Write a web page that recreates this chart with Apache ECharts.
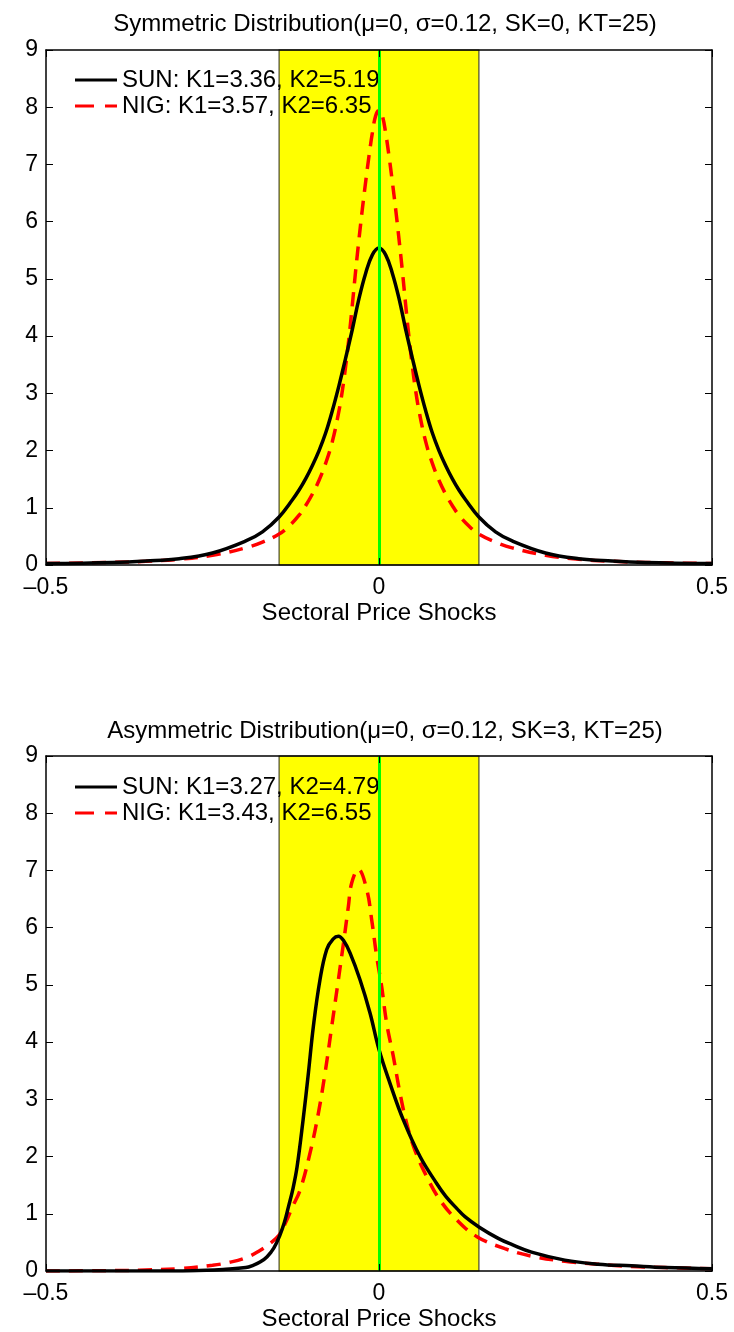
<!DOCTYPE html>
<html>
<head>
    <meta charset="utf-8"/>
    <title>ECharts</title>
    <script src="https://cdn.jsdelivr.net/npm/echarts@6/dist/echarts.min.js"></script>
    <style>
        html, body { margin: 0; padding: 0; background: #fff; }
    </style>
</head>
<body>
<div id="main" style="width: 734px;height:1332px;"></div>
<script type="text/javascript">
    // 刻度
    var xTicks = [-0.5, 0, 0.5];
    var yTicks = [0, 1, 2, 3, 4, 5, 6, 7, 8, 9];
    var bandRange = [-0.15, 0.15];

    var titles = [
        'Symmetric Distribution(\u03bc=0, \u03c3=0.12, SK=0, KT=25)',
        'Asymmetric Distribution(\u03bc=0, \u03c3=0.12, SK=3, KT=25)'
    ];
    var xName = 'Sectoral Price Shocks';
    var sunNames = ['SUN: K1=3.36, K2=5.19', 'SUN: K1=3.27, K2=4.79'];
    var nigNames = ['NIG: K1=3.57, K2=6.35', 'NIG: K1=3.43, K2=6.55'];

    // 上图 SUN
    var topSunX = [-0.5, -0.4, -0.35, -0.3, -0.25, -0.2, -0.175, -0.15, -0.13, -0.12, -0.11, -0.1, -0.09, -0.08, -0.07, -0.06, -0.05, -0.04, -0.03, -0.02, -0.01,
        0, 0.01, 0.02, 0.03, 0.04, 0.05, 0.06, 0.07, 0.08, 0.09, 0.1, 0.11, 0.12, 0.13, 0.15, 0.175, 0.2, 0.25, 0.3, 0.35, 0.4, 0.5];
    var topSunY = [0.025, 0.045, 0.07, 0.11, 0.21, 0.42, 0.58, 0.84, 1.14, 1.31, 1.51, 1.74, 2.00, 2.31, 2.70, 3.14, 3.62, 4.12, 4.66, 5.10, 5.42,
        5.54, 5.42, 5.10, 4.66, 4.12, 3.62, 3.14, 2.70, 2.31, 2.00, 1.74, 1.51, 1.31, 1.14, 0.84, 0.58, 0.42, 0.21, 0.11, 0.07, 0.045, 0.025];
    // 上图 NIG
    var topNigX = [-0.5, -0.4, -0.35, -0.3, -0.25, -0.2, -0.175, -0.15, -0.135, -0.12, -0.11, -0.1, -0.09, -0.08, -0.07, -0.06, -0.055, -0.05, -0.045, -0.04, -0.035, -0.03, -0.025, -0.02, -0.015, -0.01, -0.005,
        0, 0.005, 0.01, 0.015, 0.02, 0.025, 0.03, 0.035, 0.04, 0.045, 0.05, 0.055, 0.06, 0.07, 0.08, 0.09, 0.1, 0.11, 0.12, 0.135, 0.15, 0.175, 0.2, 0.25, 0.3, 0.35, 0.4, 0.5];
    var topNigY = [0.025, 0.045, 0.065, 0.10, 0.17, 0.30, 0.40, 0.54, 0.68, 0.87, 1.04, 1.24, 1.48, 1.78, 2.16, 2.70, 3.05, 3.48, 3.98, 4.55, 5.15, 5.70, 6.22, 6.70, 7.15, 7.55, 7.85,
        7.95, 7.85, 7.55, 7.15, 6.70, 6.22, 5.70, 5.15, 4.55, 3.98, 3.48, 3.05, 2.70, 2.16, 1.78, 1.48, 1.24, 1.04, 0.87, 0.68, 0.54, 0.40, 0.30, 0.17, 0.10, 0.065, 0.045, 0.025];

    // 下图 SUN
    var botSunX = [-0.5, -0.35, -0.28, -0.23, -0.2, -0.189, -0.178, -0.168, -0.158, -0.149, -0.142, -0.136, -0.129, -0.123, -0.114, -0.106, -0.0986, -0.0886, -0.0785, -0.069, -0.061, -0.053, -0.0435, -0.0285, -0.0135,
        0, 0.0165, 0.0365, 0.0616, 0.0866, 0.1, 0.117, 0.129, 0.15, 0.179, 0.2, 0.229, 0.279, 0.329, 0.379, 0.43, 0.5];
    var botSunY = [0, 0, 0.005, 0.03, 0.06, 0.10, 0.16, 0.25, 0.40, 0.62, 0.85, 1.12, 1.45, 1.82, 2.64, 3.46, 4.27, 5.09, 5.62, 5.80, 5.85, 5.77, 5.56, 5.09, 4.51,
        3.87, 3.28, 2.64, 2.00, 1.53, 1.31, 1.09, 0.95, 0.77, 0.57, 0.46, 0.33, 0.19, 0.12, 0.09, 0.06, 0.04];
    // 下图 NIG
    var botNigX = [-0.5, -0.41, -0.36, -0.3, -0.25, -0.225, -0.2, -0.18, -0.165, -0.15, -0.14, -0.13, -0.1186, -0.1036, -0.091, -0.081, -0.071, -0.061, -0.0526, -0.046, -0.041, -0.031, -0.0185, -0.011, -0.0035,
        0.004, 0.0115, 0.0215, 0.0315, 0.0416, 0.054, 0.0716, 0.0916, 0.117, 0.147, 0.189, 0.229, 0.279, 0.329, 0.379, 0.43, 0.5];
    var botNigY = [0, 0.005, 0.015, 0.04, 0.10, 0.15, 0.23, 0.35, 0.47, 0.63, 0.85, 1.12, 1.41, 2.06, 2.76, 3.46, 4.27, 5.09, 5.79, 6.37, 6.78, 7.02, 6.67, 6.14, 5.50,
        4.97, 4.33, 3.75, 3.11, 2.58, 2.11, 1.65, 1.24, 0.89, 0.60, 0.39, 0.26, 0.17, 0.12, 0.08, 0.06, 0.04];

    function zip(xs, ys) {
        var out = [];
        for (var i = 0; i < xs.length; i++) {
            out.push([xs[i], ys[i]]);
        }
        return out;
    }

    var FONT = 'Liberation Sans, Arial, Helvetica, sans-serif';
    var grids = [
        {left: 46, right: 22, top: 50, height: 515},
        {left: 46, right: 22, top: 756, height: 515}
    ];
    // 图例图标: 实线和虚线
    var solidIcon = 'path://M0,0h42v3h-42z';
    var dashIcon = 'path://M0,0h19v3h-19zM30,0h12v3h-12z';

    function xAxes(gi) {
        var base = {
            gridIndex: gi,
            type: 'value',
            min: xTicks[0],
            max: xTicks[xTicks.length - 1],
            interval: 0.5,
            z: 10,
            splitLine: {show: false},
            axisLine: {onZero: false, lineStyle: {color: '#000', width: 1.5}},
            axisTick: {inside: true, length: 7, lineStyle: {color: '#000', width: 1}}
        };
        var bottom = Object.assign({}, base, {
            position: 'bottom',
            name: xName,
            nameLocation: 'middle',
            nameGap: 36,
            nameTextStyle: {fontFamily: FONT, fontSize: 24, color: '#000'},
            axisLabel: {
                fontFamily: FONT, fontSize: 23, color: '#000', margin: 11,
                formatter: function (v) {
                    return v < 0 ? '\u2013' + Math.abs(v) : String(v);
                }
            }
        });
        var top = Object.assign({}, base, {position: 'top', axisLabel: {show: false}});
        return [bottom, top];
    }

    function yAxes(gi) {
        var base = {
            gridIndex: gi,
            type: 'value',
            min: yTicks[0],
            max: yTicks[yTicks.length - 1],
            interval: 1,
            z: 10,
            splitLine: {show: false},
            axisLine: {onZero: false, lineStyle: {color: '#000', width: 1.5}},
            axisTick: {inside: true, length: 7, lineStyle: {color: '#000', width: 1}}
        };
        var left = Object.assign({}, base, {
            position: 'left',
            axisLabel: {fontFamily: FONT, fontSize: 23, color: '#000', margin: 8}
        });
        var right = Object.assign({}, base, {position: 'right', axisLabel: {show: false}});
        return [left, right];
    }

    function panelSeries(gi, sunX, sunY, nigX, nigY) {
        return [
            {
                name: sunNames[gi],
                type: 'line',
                xAxisIndex: gi * 2,
                yAxisIndex: gi * 2,
                data: zip(sunX, sunY),
                smooth: 0.4,
                symbol: 'none',
                z: 4,
                lineStyle: {color: '#000', width: 3.5},
                itemStyle: {color: '#000'},
                markArea: {
                    silent: true,
                    itemStyle: {color: '#ffff00', borderColor: '#4a4a30', borderWidth: 1.2},
                    data: [[{xAxis: bandRange[0], yAxis: 0}, {xAxis: bandRange[1], yAxis: 9}]]
                },
                markLine: {
                    silent: true,
                    symbol: 'none',
                    label: {show: false},
                    lineStyle: {color: '#00ff00', width: 3, type: 'solid'},
                    data: [{xAxis: 0}]
                }
            },
            {
                name: nigNames[gi],
                type: 'line',
                xAxisIndex: gi * 2,
                yAxisIndex: gi * 2,
                data: zip(nigX, nigY),
                smooth: 0.4,
                symbol: 'none',
                z: 3,
                lineStyle: {color: '#ff0000', width: 3.5, type: [14, 9]},
                itemStyle: {color: '#ff0000'}
            }
        ];
    }

    function legendFor(gi, top) {
        return {
            data: [
                {name: sunNames[gi], icon: solidIcon},
                {name: nigNames[gi], icon: dashIcon}
            ],
            orient: 'vertical', left: 70, top: top, itemGap: 0,
            itemWidth: 42, itemHeight: 3,
            textStyle: {fontFamily: FONT, fontSize: 24, lineHeight: 26, color: '#000'}
        };
    }

    var myChart = echarts.init(document.getElementById('main'));

    var option = {
        backgroundColor: '#fff',
        animation: false,
        title: [
            {
                text: titles[0], left: 380, top: 7, textAlign: 'center',
                textStyle: {fontFamily: FONT, fontSize: 24, fontWeight: 'normal', color: '#000'}
            },
            {
                text: titles[1], left: 380, top: 714, textAlign: 'center',
                textStyle: {fontFamily: FONT, fontSize: 24, fontWeight: 'normal', color: '#000'}
            }
        ],
        legend: [legendFor(0, 62), legendFor(1, 769)],
        grid: grids,
        xAxis: xAxes(0).concat(xAxes(1)),
        yAxis: yAxes(0).concat(yAxes(1)),
        series: panelSeries(0, topSunX, topSunY, topNigX, topNigY)
            .concat(panelSeries(1, botSunX, botSunY, botNigX, botNigY))
    };

    myChart.setOption(option);
</script>
</body>
</html>
